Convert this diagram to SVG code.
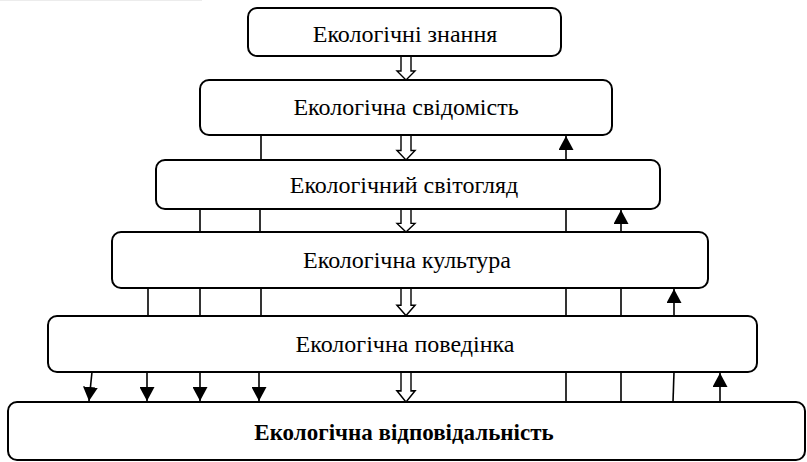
<svg xmlns="http://www.w3.org/2000/svg" width="807" height="462" viewBox="0 0 807 462">
<defs>
<style>
.box{fill:#fff;stroke:#000;stroke-width:2}
.t{font-family:"Liberation Serif","Times New Roman",serif;font-size:24px;fill:#000;text-anchor:middle}
.tb{font-weight:bold;font-size:23px}
.ln{stroke:#000;stroke-width:1.6;fill:none}
.hol{fill:#fff;stroke:#000;stroke-width:1.4;stroke-linejoin:miter}
</style>
<marker id="ah" viewBox="0 0 14 15" refX="14" refY="7.5" markerWidth="14" markerHeight="15" markerUnits="userSpaceOnUse" orient="auto">
<path d="M0,0 L14,7.5 L0,15 Z" fill="#000"/>
</marker>
<path id="hollow" d="M-5,0 L5,0 L5,15 L9,15 L0,24 L-9,15 L-5,15 Z"/>
</defs>
<line x1="0" y1="0.5" x2="202" y2="0.5" stroke="#ececec" stroke-width="1"/>
<g id="connectors">
<use href="#hollow" class="hol" transform="translate(406,56)"/>
<line class="ln" x1="261" y1="135" x2="261" y2="160"/>
<use href="#hollow" class="hol" transform="translate(406,135) scale(1,1.04)"/>
<line class="ln" x1="566" y1="160" x2="566" y2="136" marker-end="url(#ah)"/>
<line class="ln" x1="200" y1="209" x2="200" y2="232"/>
<line class="ln" x1="260" y1="209" x2="260" y2="232"/>
<use href="#hollow" class="hol" transform="translate(406,209) scale(1,0.96)"/>
<line class="ln" x1="566" y1="209" x2="566" y2="232"/>
<line class="ln" x1="621" y1="232" x2="621" y2="210" marker-end="url(#ah)"/>
<line class="ln" x1="148" y1="288" x2="148" y2="316"/>
<line class="ln" x1="200" y1="288" x2="200" y2="316"/>
<line class="ln" x1="261" y1="288" x2="261" y2="316"/>
<use href="#hollow" class="hol" transform="translate(406,288) scale(1,1.15)"/>
<line class="ln" x1="566" y1="288" x2="566" y2="316"/>
<line class="ln" x1="621" y1="288" x2="621" y2="316"/>
<line class="ln" x1="674" y1="316" x2="674" y2="289" marker-end="url(#ah)"/>
<line class="ln" x1="92" y1="372" x2="89" y2="401" marker-end="url(#ah)"/>
<line class="ln" x1="147" y1="372" x2="147" y2="401" marker-end="url(#ah)"/>
<line class="ln" x1="200" y1="372" x2="200" y2="401" marker-end="url(#ah)"/>
<line class="ln" x1="259" y1="372" x2="259" y2="401" marker-end="url(#ah)"/>
<use href="#hollow" class="hol" transform="translate(406,372) scale(1,1.25)"/>
<line class="ln" x1="566" y1="372" x2="566" y2="402"/>
<line class="ln" x1="621" y1="372" x2="621" y2="402"/>
<line class="ln" x1="674" y1="372" x2="673" y2="402"/>
<line class="ln" x1="720" y1="402" x2="720" y2="373" marker-end="url(#ah)"/>
</g>
<g id="n1">
<rect class="box" x="248" y="8" width="313" height="48" rx="9"/>
<text class="t" x="405" y="42">Екологічні знання</text>
</g>
<g id="n2">
<rect class="box" x="200" y="80" width="412" height="55" rx="9"/>
<text class="t" x="406" y="115">Екологічна свідомість</text>
</g>
<g id="n3">
<rect class="box" x="156" y="160" width="504" height="49" rx="9"/>
<text class="t" x="404" y="193">Екологічний світогляд</text>
</g>
<g id="n4">
<rect class="box" x="112" y="232" width="596" height="56" rx="9"/>
<text class="t" x="407" y="268">Екологічна культура</text>
</g>
<g id="n5">
<rect class="box" x="48" y="316" width="709" height="56" rx="9"/>
<text class="t" x="405" y="352">Екологічна поведінка</text>
</g>
<g id="n6">
<rect class="box" x="8" y="402" width="797" height="58" rx="9"/>
<text class="t tb" x="404" y="440">Екологічна відповідальність</text>
</g>
</svg>
